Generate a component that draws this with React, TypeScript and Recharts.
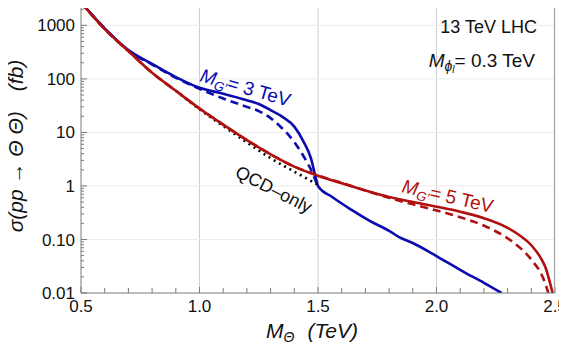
import React from "react";
import { LineChart, Line, XAxis, YAxis, ReferenceLine } from "recharts";

// ---- data (M in TeV, sigma in fb) ----
const blue3Solid = [
  { m: 0.5, s: 2700 }, { m: 0.6, s: 880 }, { m: 0.7, s: 345 }, { m: 0.8, s: 190 },
  { m: 0.9, s: 108 }, { m: 1.0, s: 68 }, { m: 1.1, s: 53 }, { m: 1.2, s: 40 },
  { m: 1.25, s: 34 }, { m: 1.3, s: 26 }, { m: 1.35, s: 19.5 }, { m: 1.4, s: 12.8 },
  { m: 1.44, s: 6.6 }, { m: 1.47, s: 3.3 }, { m: 1.485, s: 1.8 }, { m: 1.495, s: 1.2 },
  { m: 1.5, s: 1.0 }, { m: 1.56, s: 0.62 }, { m: 1.64, s: 0.36 }, { m: 1.72, s: 0.22 },
  { m: 1.8, s: 0.145 }, { m: 1.84, s: 0.112 }, { m: 1.9, s: 0.086 }, { m: 2.0, s: 0.049 },
  { m: 2.12, s: 0.024 }, { m: 2.2, s: 0.0155 }, { m: 2.275, s: 0.01 },
];
const blue3Dashed = [
  { m: 0.5, s: 2700 }, { m: 0.6, s: 875 }, { m: 0.7, s: 338 }, { m: 0.8, s: 185 },
  { m: 0.9, s: 105 }, { m: 1.0, s: 65 }, { m: 1.1, s: 43 }, { m: 1.2, s: 30 },
  { m: 1.25, s: 25 }, { m: 1.3, s: 18.5 }, { m: 1.34, s: 13 }, { m: 1.4, s: 6.6 },
  { m: 1.415, s: 5.3 }, { m: 1.455, s: 2.7 }, { m: 1.477, s: 1.75 }, { m: 1.49, s: 1.25 },
  { m: 1.5, s: 1.0 },
];
const red5Solid = [
  { m: 0.5, s: 2700 }, { m: 0.6, s: 850 }, { m: 0.7, s: 330 }, { m: 0.8, s: 130 },
  { m: 0.9, s: 60 }, { m: 1.0, s: 28 }, { m: 1.1, s: 14 }, { m: 1.2, s: 7.2 },
  { m: 1.3, s: 3.9 }, { m: 1.4, s: 2.3 }, { m: 1.5, s: 1.55 }, { m: 1.6, s: 1.12 },
  { m: 1.7, s: 0.82 }, { m: 1.8, s: 0.62 }, { m: 1.9, s: 0.5 }, { m: 2.0, s: 0.41 },
  { m: 2.1, s: 0.33 }, { m: 2.2, s: 0.25 }, { m: 2.3, s: 0.165 }, { m: 2.35, s: 0.12 },
  { m: 2.4, s: 0.078 }, { m: 2.44, s: 0.045 }, { m: 2.46, s: 0.03 }, { m: 2.475, s: 0.018 },
  { m: 2.49, s: 0.01 },
];
const red5Dashed = [
  { m: 0.5, s: 2700 }, { m: 0.6, s: 850 }, { m: 0.7, s: 330 }, { m: 0.8, s: 130 },
  { m: 0.9, s: 60 }, { m: 1.0, s: 28 }, { m: 1.1, s: 14 }, { m: 1.2, s: 7.2 },
  { m: 1.3, s: 3.9 }, { m: 1.4, s: 2.3 }, { m: 1.5, s: 1.57 }, { m: 1.6, s: 1.14 },
  { m: 1.7, s: 0.82 }, { m: 1.8, s: 0.6 }, { m: 1.85, s: 0.52 }, { m: 1.94, s: 0.41 },
  { m: 2.07, s: 0.286 }, { m: 2.21, s: 0.173 }, { m: 2.28, s: 0.12 }, { m: 2.325, s: 0.088 },
  { m: 2.4, s: 0.042 }, { m: 2.45, s: 0.019 }, { m: 2.472, s: 0.01 },
];
const qcdOnly = [
  { m: 0.9, s: 60 }, { m: 1.0, s: 27 }, { m: 1.1, s: 13.2 }, { m: 1.2, s: 6.5 },
  { m: 1.3, s: 3.3 }, { m: 1.4, s: 1.85 }, { m: 1.5, s: 1.05 },
];

// ---- ticks / grid ----
const xDomain = [0.5, 2.5];
const xMajor = [0.5, 1.0, 1.5, 2.0, 2.5];
const xMajorLabels = ["0.5", "1.0", "1.5", "2.0", "2.5"];
const xAllTicks = [0.5, 0.6, 0.7, 0.8, 0.9, 1.0, 1.1, 1.2, 1.3, 1.4, 1.5, 1.6, 1.7, 1.8, 1.9, 2.0, 2.1, 2.2, 2.3, 2.4, 2.5];
const xGrid = [1.0, 1.5, 2.0];
const yDomain = [0.01, 2850];
const yMajor = [0.01, 0.1, 1, 10, 100, 1000];
const yMajorLabels = ["0.01", "0.10", "1", "10", "100", "1000"];
const yAllTicks = [
  0.01, 0.02, 0.03, 0.04, 0.05, 0.06, 0.07, 0.08, 0.09,
  0.1, 0.2, 0.3, 0.4, 0.5, 0.6, 0.7, 0.8, 0.9,
  1, 2, 3, 4, 5, 6, 7, 8, 9,
  10, 20, 30, 40, 50, 60, 70, 80, 90,
  100, 200, 300, 400, 500, 600, 700, 800, 900,
  1000, 2000,
];
const yGrid = [0.1, 1, 10, 100, 1000];

const BLUE = "#0b0bb0";
const RED = "#b01010";
const FONT = "'Liberation Sans', Arial, sans-serif";
const FRAME = "#7a7a7a";
const EDGE = "#a0a0a0";
const TXT = { fontSize: 17, fill: "#111", fontFamily: FONT };

const near = (arr: number[], v: number) => arr.findIndex((a) => Math.abs(a - v) < 1e-9);

// tick renderers: x/y come from the axis scale; the tick mark points into the plot
const BottomTick = (p: any) => {
  const i = near(xMajor, p.payload.value);
  return (
    <g>
      <path d={`M${p.x},${p.y}v${i >= 0 ? -6 : -5}`} stroke={FRAME} strokeWidth={1} fill="none" />
      {i >= 0 && (
        <text x={p.x} y={p.y + 7} dy="0.71em" textAnchor="middle" {...TXT}>{xMajorLabels[i]}</text>
      )}
    </g>
  );
};
const TopTick = (p: any) => (
  <path d={`M${p.x},${p.y}v4`} stroke={FRAME} strokeWidth={1} fill="none" />
);
const LeftTick = (p: any) => {
  const i = near(yMajor, p.payload.value);
  return (
    <g>
      <path d={`M${p.x},${p.y}h${i >= 0 ? 6 : 3}`} stroke={FRAME} strokeWidth={1} fill="none" />
      {i >= 0 && (
        <text x={p.x - 6} y={p.y} dy="0.355em" textAnchor="end" {...TXT}>{yMajorLabels[i]}</text>
      )}
    </g>
  );
};
const RightTick = (p: any) => {
  const i = near(yMajor, p.payload.value);
  return <path d={`M${p.x},${p.y}h${i >= 0 ? -6 : -3}`} stroke={FRAME} strokeWidth={1} fill="none" />;
};

export default function App() {
  const W = 567, H = 356;
  const M = { top: 1, right: 12, left: 0, bottom: 0 };
  const yAxisW = 81, xAxisH = 63;
  const plotRight = W - M.right;
  const plotBottom = H - M.bottom - xAxisH;
  return (
    <div style={{ position: "relative", width: W, height: H, margin: -8, fontFamily: FONT }}>
      <LineChart width={W} height={H} margin={M}>
        {xGrid.map((x) => (
          <ReferenceLine key={"gx" + x} x={x} stroke="#cfcfcf" strokeWidth={1} />
        ))}
        {yGrid.map((y) => (
          <ReferenceLine key={"gy" + y} y={y} stroke="#ececec" strokeWidth={1} />
        ))}

        <XAxis
          dataKey="m" type="number" domain={xDomain} ticks={xAllTicks} interval={0}
          height={xAxisH} tickSize={0} tickMargin={0} tickLine={false}
          axisLine={{ stroke: FRAME }} tick={BottomTick}
        />
        <XAxis xAxisId="top" dataKey="m" orientation="top" type="number" domain={xDomain} ticks={xAllTicks}
          interval={0} height={0} tickSize={0} tickMargin={0} tickLine={false}
          axisLine={{ stroke: EDGE }} tick={TopTick} />
        <YAxis
          scale="log" domain={yDomain} allowDataOverflow ticks={yAllTicks} interval={0} width={yAxisW}
          tickSize={0} tickMargin={0} tickLine={false}
          axisLine={{ stroke: FRAME }} tick={LeftTick}
        />
        <YAxis yAxisId="right" orientation="right" scale="log" domain={yDomain} allowDataOverflow
          ticks={yAllTicks} interval={0} width={0} tickSize={0} tickMargin={0} tickLine={false}
          axisLine={{ stroke: EDGE }} tick={RightTick} />

        <Line xAxisId="top" yAxisId="right" data={red5Solid} dataKey="s" stroke="none"
          dot={false} activeDot={false} legendType="none" isAnimationActive={false} />

        <Line data={blue3Dashed} dataKey="s" type="monotone" stroke={BLUE} strokeWidth={2.6}
          strokeDasharray="8 5" dot={false} isAnimationActive={false} />
        <Line data={blue3Solid} dataKey="s" type="monotone" stroke={BLUE} strokeWidth={2.6}
          dot={false} isAnimationActive={false} />
        <Line data={qcdOnly} dataKey="s" type="monotone" stroke="#000" strokeWidth={2.6}
          strokeDasharray="2 4" strokeLinecap="butt" dot={false} isAnimationActive={false} />
        <Line data={red5Dashed} dataKey="s" type="monotone" stroke={RED} strokeWidth={2.6}
          strokeDasharray="8 5" dot={false} isAnimationActive={false} />
        <Line data={red5Solid} dataKey="s" type="monotone" stroke={RED} strokeWidth={2.6}
          dot={false} isAnimationActive={false} />
      </LineChart>
      <svg width={W} height={H} style={{ position: "absolute", left: 0, top: 0, pointerEvents: "none" }}
        fontFamily={FONT}>
        {/* plot frame: top and right edges */}
        <path d={`M${yAxisW},${M.top + 0.5}H${plotRight - 0.5}V${plotBottom}`} stroke={EDGE} strokeWidth={1.2} fill="none" />
        <text transform="translate(23,146) rotate(-90)" textAnchor="middle" fontSize={21} fill="#111">
          <tspan fontStyle="italic">σ(pp → Θ Θ)</tspan>
          <tspan dx={20} fontStyle="italic">(fb)</tspan>
        </text>
        <text x={312} y={338} textAnchor="middle" fontSize={21} fill="#111">
          <tspan fontStyle="italic">M</tspan>
          <tspan fontStyle="italic" fontSize={14} dy={4}>Θ</tspan>
          <tspan dy={-4} dx={13} fontStyle="italic">(TeV)</tspan>
        </text>
        <text x={537} y={33} textAnchor="end" fontSize={18} fill="#111">13 TeV LHC</text>
        <text x={535} y={67} textAnchor="end" fontSize={19} fill="#111">
          <tspan fontStyle="italic">M</tspan>
          <tspan fontStyle="italic" fontSize={14} dy={4}>ϕ</tspan>
          <tspan fontStyle="italic" fontSize={10} dy={2}>l</tspan>
          <tspan dy={-6}>= 0.3 TeV</tspan>
        </text>
        <text transform="translate(199,81) rotate(16)" fontSize={19} fill={BLUE}>
          <tspan fontStyle="italic">M</tspan>
          <tspan fontStyle="italic" fontSize={13} dy={4}>G′</tspan>
          <tspan dy={-4}>= 3 TeV</tspan>
        </text>
        <text transform="translate(401,192) rotate(13)" fontSize={19} fill={RED}>
          <tspan fontStyle="italic">M</tspan>
          <tspan fontStyle="italic" fontSize={13} dy={4}>G′</tspan>
          <tspan dy={-4}>= 5 TeV</tspan>
        </text>
        <text transform="translate(234,176) rotate(27)" fontSize={18} fill="#111">QCD–only</text>
      </svg>
    </div>
  );
}
